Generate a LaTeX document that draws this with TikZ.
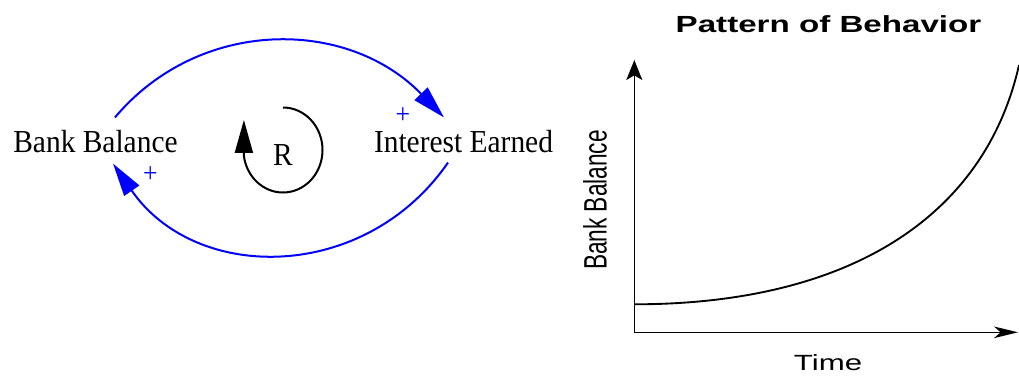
\documentclass[tikz,border=0pt]{standalone}
\usepackage{fontspec}
\setmainfont{Liberation Serif}
\newfontfamily\labelfont[FakeStretch=0.92]{Liberation Serif}
\newfontfamily\widesans[FakeStretch=1.42]{Liberation Sans}
\newfontfamily\narrowsans[FakeStretch=0.70]{Liberation Sans}
\usetikzlibrary{arrows.meta}

\begin{document}
\begin{tikzpicture}[x=0.75pt,y=0.75pt,
  lbl/.style={inner sep=0,font=\labelfont\fontsize{24}{28}\selectfont},
  sign/.style={inner sep=0,text=linkblue,font=\labelfont\fontsize{21}{24}\selectfont},
  link/.style={draw=linkblue,line width=1.5pt,
    -{Triangle[length=24.75pt,width=13.5pt]}},
  loopline/.style={draw=black,line width=1.5pt,
    -{Triangle[length=24.75pt,width=13.5pt]}},
  axisline/.style={draw=black,line width=1.1pt}]
\definecolor{linkblue}{HTML}{0000FF}
\useasboundingbox (0,0) rectangle (1019,376);
% causal loop
\node[lbl,anchor=base] (bb) at (95.5,223.5) {Bank Balance};
\node[lbl,anchor=base] (ie) at (463.5,223.5) {Interest Earned};
\node[lbl] (r) at (283,221) {R};
\node[sign] (plusie) at (403,260) {+};
\node[sign] (plusbb) at (150.5,201) {+};
\draw[link] ([shift={(19.5,12.6)}]bb.north) .. controls +(84,100) and +(-97,100) .. ([shift={(-19.5,12.6)}]ie.north);
\draw[link] ([shift={(-15.5,-9.5)}]ie.south) .. controls +(-83,-120) and +(83,-120) .. ([shift={(17.5,-10.5)}]bb.south);
\draw[loopline] ([shift={(0,47.5)}]r.center) arc[start angle=90,end angle=-172,x radius=39.5,y radius=42.5] -- ++(0,36);
% pattern of behavior
\node[anchor=base,font=\widesans\bfseries\fontsize{17.5}{20}\selectfont] (title) at (828.5,344) {Pattern of Behavior};
\coordinate (origin) at (634.3,43.7);
\coordinate (ytip) at (634.3,316);
\coordinate (xtip) at (1018,43.7);
\coordinate (start) at (634.3,71.7);
\coordinate (stop) at (1019,311);
\draw[axisline,-{Stealth[length=15pt,width=12pt,inset=3.5pt]}] (origin) -- (ytip);
\draw[axisline,-{Stealth[length=18pt,width=8.7pt,inset=5pt]}] (origin) -- (xtip);
\node[anchor=base,font=\widesans\fontsize{16.5}{19}\selectfont] (time) at (828,5.3) {Time};
\node[rotate=90,inner sep=0,font=\narrowsans\fontsize{24.3}{28}\selectfont] (ylab) at (595,176) {Bank Balance};
\draw[line width=1.4pt] (start) .. controls (850,71.7) and (985,160) .. (stop);
\end{tikzpicture}
\end{document}
